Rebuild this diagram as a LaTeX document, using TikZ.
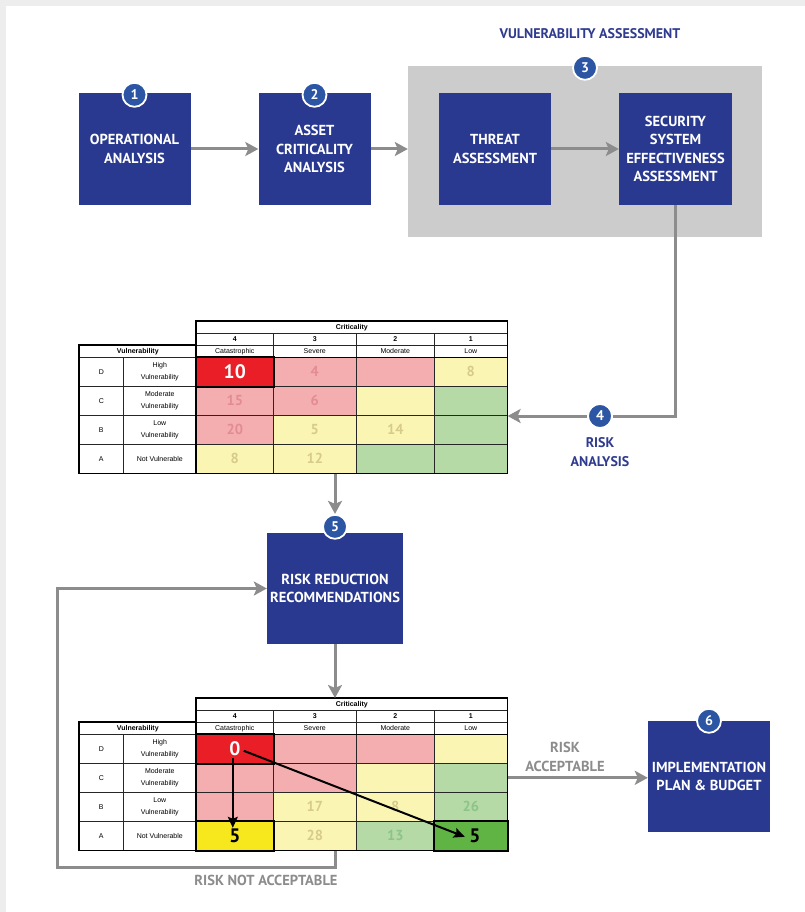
\documentclass[tikz,border=0pt]{standalone}
\usepackage{fontspec}
\setmainfont{PT Sans}
\newfontfamily\tabfont{Liberation Sans}
\usetikzlibrary{arrows.meta}
\definecolor{boxblue}{RGB}{41,57,143}
\definecolor{numblue}{RGB}{44,86,163}
\definecolor{flowgrey}{RGB}{140,140,140}
\definecolor{panelgrey}{RGB}{204,204,204}
\definecolor{titleblue}{RGB}{46,59,142}
\definecolor{riskred}{RGB}{234,30,38}
\definecolor{riskpink}{RGB}{245,174,176}
\definecolor{riskyel}{RGB}{251,245,180}
\definecolor{riskgrn}{RGB}{181,218,165}
\definecolor{hotyel}{RGB}{246,232,28}
\definecolor{hotgrn}{RGB}{96,180,68}
\definecolor{pinknum}{RGB}{226,140,146}
\definecolor{yelnum}{RGB}{214,203,140}
\definecolor{grnnum}{RGB}{140,196,135}
\newcommand{\hotnum}[2]{\textcolor{#1}{\fontsize{19.5}{19.5}\selectfont\bfseries #2}}
\newcommand{\dimnum}[2]{\textcolor{#1}{\fontsize{14.5}{15}\selectfont\bfseries #2}}
\begin{document}
\begin{tikzpicture}[x=1pt,y=-1pt,
  stage/.style={fill=boxblue,text=white,align=center,inner sep=0pt,minimum width=112pt,minimum height=112pt,font=\fontsize{14.5}{18.5}\selectfont\bfseries},
  badge/.style={circle,fill=numblue,draw=white,line width=1.8pt,minimum size=24pt,inner sep=0pt,text=white,font=\fontsize{14}{14}\selectfont\bfseries},
  flow/.style={draw=flowgrey,line width=3pt,-{Stealth[length=13pt,width=14pt,inset=3pt]}},
  flowline/.style={draw=flowgrey,line width=3pt},
  shiftarrow/.style={draw=black,line width=2pt,-{Stealth[length=11pt,width=10pt,inset=2pt]}},
  cell/.style={draw=black!85,line width=.6pt,anchor=north west,inner sep=0pt,minimum height=29pt},
  hdr/.style={cell,fill=white,minimum height=12pt,font=\tabfont\fontsize{7}{12}\selectfont},
  hdrb/.style={hdr,font=\tabfont\fontsize{7}{12}\selectfont\bfseries},
  lbl/.style={cell,fill=white,align=center,font=\tabfont\fontsize{7}{12.5}\selectfont},
  tframe/.style={draw=black,line width=1.3pt},
  hot/.style={draw=black,line width=2pt},
  navytext/.style={text=titleblue,align=center,font=\fontsize{14}{19}\selectfont\bfseries},
  greytext/.style={text=flowgrey,align=center,font=\fontsize{14.5}{19}\selectfont\bfseries}]
  \useasboundingbox (0,0) rectangle (805,912);
  \fill[black!7] (0,0) rectangle (805,912);
  \fill[white] (6,6) rectangle (805,912);

  \node[stage] (op) at (134.5,149) {OPERATIONAL\\ANALYSIS};
  \node[stage] (ac) at (314.5,149) {ASSET\\CRITICALITY\\ANALYSIS};
  \node[fill=panelgrey,minimum width=354pt,minimum height=171pt,inner sep=0pt] (vagroup) at (585,151.5) {};
  \node[stage] (threat) at (495,149) {THREAT\\ASSESSMENT};
  \node[stage,minimum width=113pt] (sse) at (675.5,149) {SECURITY\\SYSTEM\\EFFECTIVENESS\\ASSESSMENT};
  \node[navytext] (vatitle) at (590,34) {VULNERABILITY ASSESSMENT};
  \node[badge] (c1) at ([yshift=-2pt]op.north) {1};
  \node[badge] (c2) at ([yshift=-2pt]ac.north) {2};
  \node[badge] (c3) at ([yshift=-2pt]vagroup.north) {3};
  \node[badge] (c4) at (600,416) {4};
  \node[navytext] (ratext) at (600,452) {RISK\\ANALYSIS};
  \node[stage,minimum width=136pt,minimum height=111pt] (rr) at (335,588.5) {RISK REDUCTION\\RECOMMENDATIONS};
  \node[badge] (c5) at ([yshift=6pt]rr.north) {5};
  \node[stage,minimum width=122pt,minimum height=111pt] (impl) at (709,776.5) {IMPLEMENTATION\\PLAN \& BUDGET};
  \node[badge] (c6) at (impl.north) {6};
  \node[greytext] (acc) at (565,757) {RISK\\ACCEPTABLE};
  \node[greytext] (notacc) at (266,880) {RISK NOT ACCEPTABLE};

  \foreach \tb/\ty in {ta/321,tb/698}{
    \node[hdrb,minimum width=311pt] (\tb-crit) at (196,\ty) {Criticality};
    \foreach \k/\cx/\cw/\cn in {4/196/77/Catastrophic,3/273/83/Severe,2/356/78/Moderate,1/434/73/Low}{
      \node[hdrb,minimum width=\cw pt] (\tb-n\k) at (\cx,\ty+12) {\k};
      \node[hdr,minimum width=\cw pt] (\tb-h\k) at (\cx,\ty+24) {\cn};
    }
    \node[hdrb,minimum width=117pt] (\tb-vul) at (79,\ty+24) {Vulnerability};
    \foreach \r/\rl/\ry/\rd in {d/D/36/{High\\Vulnerability},c/C/65/{Moderate\\Vulnerability},b/B/94/{Low\\Vulnerability},a/A/123/{Not Vulnerable}}{
      \node[lbl,minimum width=44pt] (\tb-l\r) at (79,\ty+\ry) {\rl};
      \node[lbl,minimum width=73pt] (\tb-v\r) at (123,\ty+\ry) {\rd};
    }
  }

  \foreach \nm/\cx/\cy/\cw/\cf/\ct in {
    ta-d4/196/357/77/riskred/{\hotnum{white}{10}},
    ta-d3/273/357/83/riskpink/{\dimnum{pinknum}{4}},
    ta-d2/356/357/78/riskpink/{},
    ta-d1/434/357/73/riskyel/{\dimnum{yelnum}{8}},
    ta-c4/196/386/77/riskpink/{\dimnum{pinknum}{15}},
    ta-c3/273/386/83/riskpink/{\dimnum{pinknum}{6}},
    ta-c2/356/386/78/riskyel/{},
    ta-c1/434/386/73/riskgrn/{},
    ta-b4/196/415/77/riskpink/{\dimnum{pinknum}{20}},
    ta-b3/273/415/83/riskyel/{\dimnum{yelnum}{5}},
    ta-b2/356/415/78/riskyel/{\dimnum{yelnum}{14}},
    ta-b1/434/415/73/riskgrn/{},
    ta-a4/196/444/77/riskyel/{\dimnum{yelnum}{8}},
    ta-a3/273/444/83/riskyel/{\dimnum{yelnum}{12}},
    ta-a2/356/444/78/riskgrn/{},
    ta-a1/434/444/73/riskgrn/{}}
    \node[cell,fill=\cf,minimum width=\cw pt] (\nm) at (\cx,\cy) {\ct};

  \foreach \nm/\cx/\cy/\cw/\cf/\ct in {
    tb-d4/196/734/77/riskred/{\hotnum{white}{0}},
    tb-d3/273/734/83/riskpink/{},
    tb-d2/356/734/78/riskpink/{},
    tb-d1/434/734/73/riskyel/{},
    tb-c4/196/763/77/riskpink/{},
    tb-c3/273/763/83/riskpink/{},
    tb-c2/356/763/78/riskyel/{},
    tb-c1/434/763/73/riskgrn/{},
    tb-b4/196/792/77/riskpink/{},
    tb-b3/273/792/83/riskyel/{\dimnum{yelnum}{17}},
    tb-b2/356/792/78/riskyel/{\dimnum{yelnum}{8}},
    tb-b1/434/792/73/riskgrn/{\dimnum{grnnum}{26}},
    tb-a4/196/821/77/hotyel/{\hotnum{black}{5}},
    tb-a3/273/821/83/riskyel/{\dimnum{yelnum}{28}},
    tb-a2/356/821/78/riskgrn/{\dimnum{grnnum}{13}},
    tb-a1/434/821/73/hotgrn/{\hspace{8pt}\hotnum{black}{5}}}
    \node[cell,fill=\cf,minimum width=\cw pt] (\nm) at (\cx,\cy) {\ct};

  \foreach \tb in {ta,tb}{
    \draw[tframe] (\tb-crit.north west) rectangle (\tb-a1.south east);
    \draw[tframe] (\tb-vul.north west) rectangle (\tb-va.south east);
    \draw[tframe] (\tb-h4.south west) -- (\tb-h1.south east);
  }
  \draw[hot] (ta-d4.north west) rectangle (ta-d4.south east);
  \draw[hot] (tb-d4.north west) rectangle (tb-d4.south east);
  \draw[hot] (tb-a4.north west) rectangle (tb-a4.south east);
  \draw[hot] (tb-a1.north west) rectangle (tb-a1.south east);

  \draw[flow] (op) -- (ac);
  \draw[flow] (ac) -- (ac -| vagroup.west);
  \draw[flow] (threat) -- (sse);
  \draw[flowline] (sse.south) |- (c4);
  \draw[flow] (c4) -- (c4 -| ta-c1.east);
  \draw[flow] (c5 |- ta-a3.south) -- (c5);
  \draw[flow] (rr.south) -- (rr.south |- tb-crit.north);
  \coordinate (loopcorner) at (57,867);
  \draw[flow] (rr.south |- tb-a3.south) |- (loopcorner) |- (rr.west);
  \draw[flow] (tb-c1.east) -- (tb-c1.east -| impl.west);
  \draw[shiftarrow] ([xshift=-2pt,yshift=-9pt]tb-d4.center) -- ([xshift=-2pt,yshift=8pt]tb-a4.center);
  \draw[shiftarrow] ([xshift=9pt,yshift=-2pt]tb-d4.center) -- ([xshift=-6pt,yshift=-1pt]tb-a1.center);
\end{tikzpicture}
\end{document}
